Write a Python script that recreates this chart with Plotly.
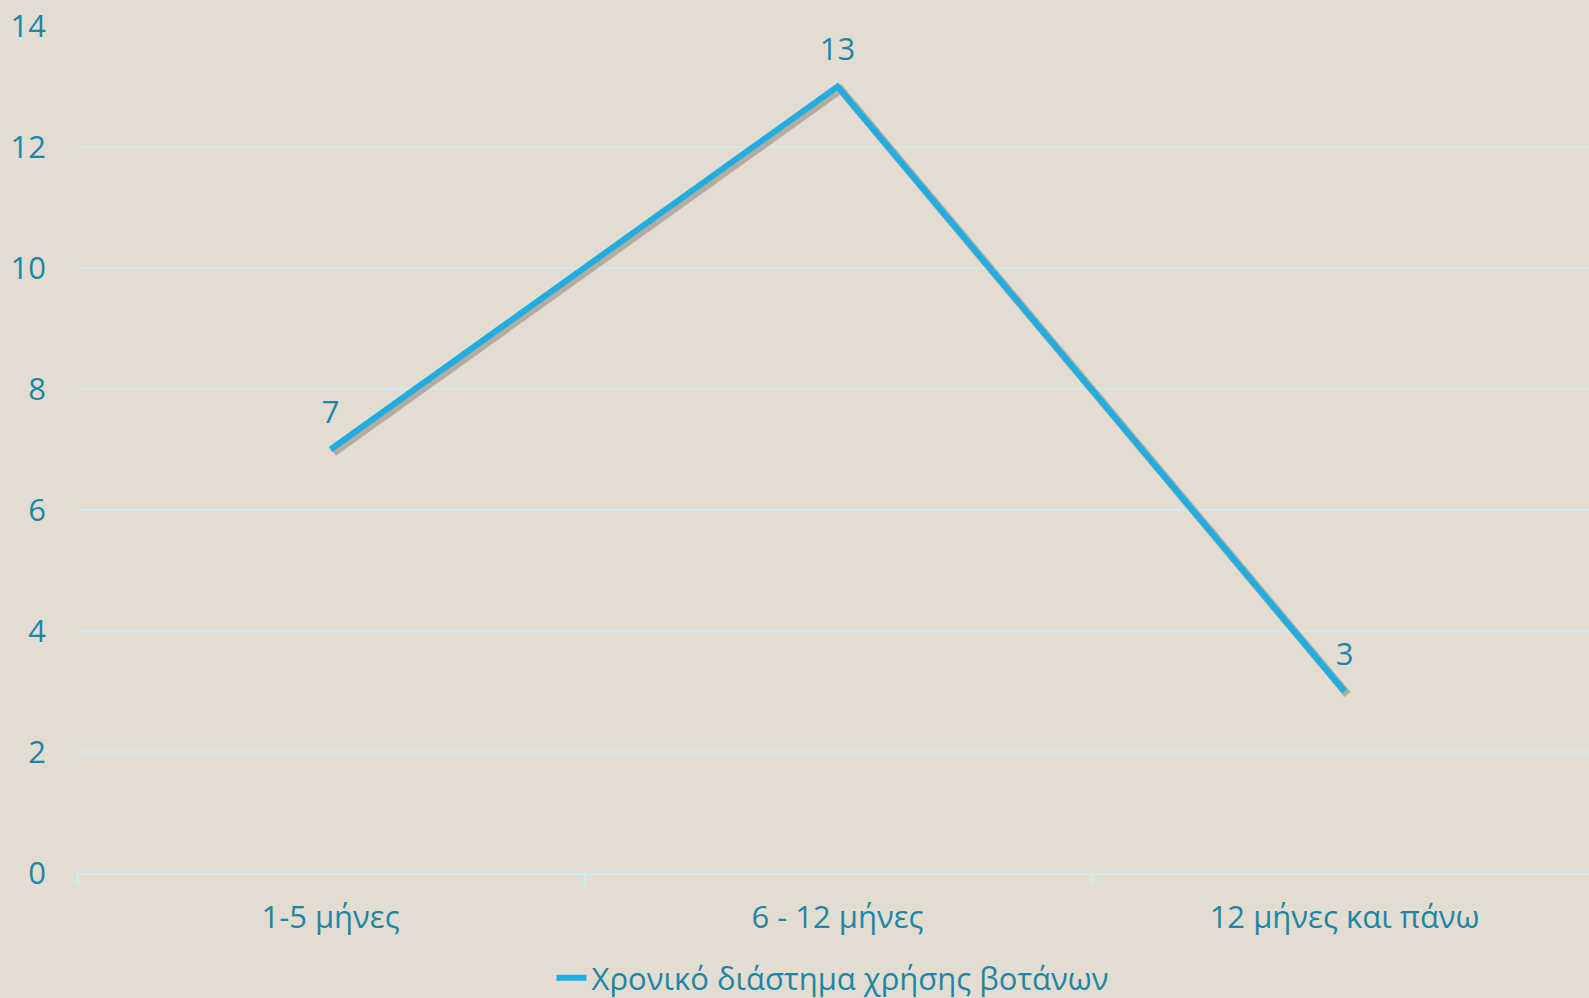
import plotly.graph_objects as go

# data
categories = ["1-5 μήνες", "6 - 12 μήνες", "12 μήνες και πάνω"]
values = [7, 13, 3]
series_name = "Χρονικό διάστημα χρήσης βοτάνων"
y_ticks = [0, 2, 4, 6, 8, 10, 12, 14]

bg = "#e3ddd1"
text_col = "#1d86a6"
line_col = "#22ade2"
grid_col = "#cdeaf0"
fsize = 31

fig = go.Figure()

# soft shadow under the line (drawn on the base axes, slightly offset)
fig.add_trace(go.Scatter(
    x=categories, y=values,
    mode="lines",
    line=dict(color="rgba(70,60,50,0.30)", width=8),
    hoverinfo="skip",
    showlegend=False,
))

# main line on the overlaying axes so it sits above the shadow
fig.add_trace(go.Scatter(
    x=categories, y=values,
    mode="lines+markers+text",
    name=series_name,
    text=[str(v) for v in values],
    textposition="top center",
    textfont=dict(size=fsize, color=text_col),
    marker=dict(size=28, color="rgba(0,0,0,0)"),
    line=dict(color=line_col, width=6),
    xaxis="x2", yaxis="y2",
))

fig.update_layout(
    width=1589, height=998,
    paper_bgcolor=bg,
    plot_bgcolor=bg,
    margin=dict(l=77, r=0, t=26, b=125, autoexpand=False),
    font=dict(family="Open Sans, Noto Sans, sans-serif", color=text_col, size=fsize),
    showlegend=True,
    legend=dict(
        orientation="h",
        x=0.5, xanchor="center",
        y=-0.124, yanchor="middle",
        font=dict(size=fsize, color=text_col),
        bgcolor="rgba(0,0,0,0)",
    ),
    xaxis=dict(
        type="category",
        range=[-0.5 - 0.006, 2.482 - 0.006],
        showgrid=False,
        showline=False,
        showticklabels=False,
        zeroline=False,
    ),
    yaxis=dict(
        range=[0 + 0.05, 14 + 0.05],
        showgrid=False,
        showticklabels=False,
        zeroline=False,
    ),
    xaxis2=dict(
        type="category",
        range=[-0.5, 2.482],
        overlaying="x",
        showgrid=False,
        showline=True,
        linecolor=grid_col,
        linewidth=2,
        ticks="outside",
        tickson="boundaries",
        ticklen=10,
        tickwidth=3,
        tickcolor=grid_col,
        ticklabelstandoff=16,
        tickfont=dict(size=fsize, color=text_col),
        zeroline=False,
        side="bottom",
    ),
    yaxis2=dict(
        range=[0, 14],
        overlaying="y",
        tickvals=y_ticks,
        showgrid=True,
        gridcolor=grid_col,
        gridwidth=2,
        zeroline=False,
        showline=False,
        ticks="",
        ticklabelstandoff=30,
        tickfont=dict(size=fsize, color=text_col),
        side="left",
        layer="below traces",
    ),
)

fig.write_html(
    "out.html",
    config={"displayModeBar": False},
    post_script="document.body.style.margin='0';",
)
